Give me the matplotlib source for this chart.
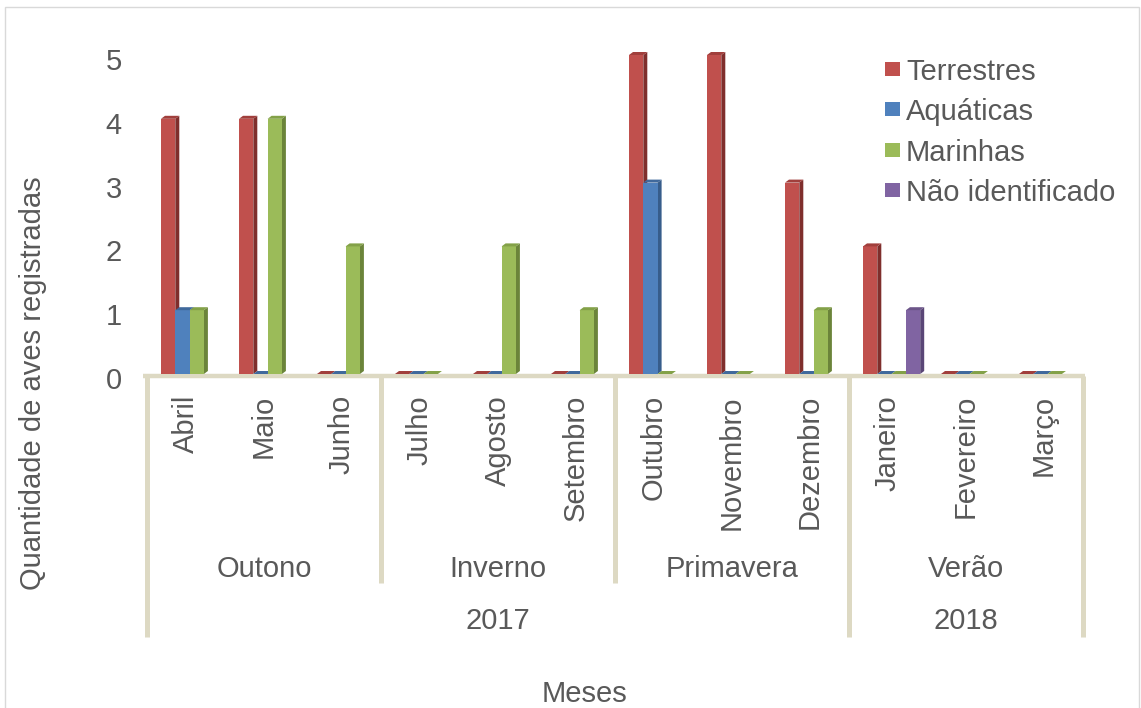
import matplotlib.pyplot as plt
import matplotlib.transforms as mtransforms
from matplotlib.patches import Polygon, Rectangle

plt.rcParams['font.family'] = ['Liberation Sans', 'DejaVu Sans']

months = ['Abril', 'Maio', 'Junho', 'Julho', 'Agosto', 'Setembro',
          'Outubro', 'Novembro', 'Dezembro', 'Janeiro', 'Fevereiro', 'Março']
seasons = ['Outono', 'Inverno', 'Primavera', 'Verão']
years = ['2017', '2018']
series = ['Terrestres', 'Aquáticas', 'Marinhas', 'Não identificado']

terrestres = [4, 4, 0, 0, 0, 0, 5, 5, 3, 2, 0, 0]
aquaticas = [1, 0, 0, 0, 0, 0, 3, 0, 0, 0, 0, 0]
marinhas = [1, 4, 2, 0, 2, 1, 0, 0, 1, 0, 0, 0]
nao_ident = [None, None, None, None, None, None, None, None, None, 1, None, None]

# front / side / top colours (Excel 2007 palette)
front = ['#c0504d', '#4f81bd', '#9bbb59', '#8064a2']
side = ['#7f2e2c', '#375d8b', '#6b843a', '#5a4676']
top = ['#a13f3c', '#40699c', '#83a148', '#6c5589']

txt = '#595959'
line_col = '#ddd9c3'
fs = 21

W, H = 1141, 708
fig = plt.figure(figsize=(W / 100, H / 100), dpi=100)

# outer border
fig.patches.append(Rectangle((5 / W, -0.05), 1134 / W, 1 - 7 / H + 0.05,
                             transform=fig.transFigure, fill=False,
                             edgecolor='#d9d9d9', lw=1))

ax = fig.add_axes([147 / W, (H - 374) / H, 936 / W, (374 - 55) / H])
ax.set_xlim(0, 12)
ax.set_ylim(0, 5)
for s in ax.spines.values():
    s.set_visible(False)
ax.set_xticks([])
ax.set_yticks(range(6))
ax.tick_params(axis='y', length=0, pad=18, labelsize=fs, labelcolor=txt)
for lab in ax.get_yticklabels():
    lab.set_transform(lab.get_transform() +
                      mtransforms.ScaledTranslation(0, -4 / 100, fig.dpi_scale_trans))

# 3d depth in data units
dx = 4 / 78
dy = 3 / 63.8
bw = 14.3 / 78
off = 14 / 78

# floor
floor_tr = mtransforms.offset_copy(ax.transData, fig=fig, y=-2, units='dots')
ax.plot([-0.05, 12.03], [0, 0], color=line_col, lw=3.2, transform=floor_tr,
        clip_on=False, zorder=1, solid_capstyle='butt')

data = [terrestres, aquaticas, marinhas, nao_ident]
z = 2
for i in range(len(months)):
    for k, vals in enumerate(data):
        v = vals[i]
        if v is None:
            continue
        x0 = i + off + k * bw
        x1 = x0 + bw
        if v > 0:
            ax.add_patch(Polygon([(x1, 0), (x1 + dx, dy), (x1 + dx, v + dy), (x1, v)],
                                 closed=True, facecolor=side[k], edgecolor='none',
                                 zorder=z, clip_on=False))
            ax.add_patch(Rectangle((x0, 0), bw, v, facecolor=front[k],
                                   edgecolor='none', zorder=z + 0.5, clip_on=False))
        ax.add_patch(Polygon([(x0, v), (x0 + dx, v + dy), (x1 + dx, v + dy), (x1, v)],
                             closed=True, facecolor=top[k], edgecolor='none',
                             zorder=z + 0.6, clip_on=False))
        z += 1

# multi-level category axis
btr = mtransforms.blended_transform_factory(ax.transData, fig.transFigure)
line_top = (H - 376) / H
for xv, ybot in [(0, 637), (3, 583), (6, 583), (9, 637), (12, 637)]:
    ax.plot([xv, xv], [line_top, (H - ybot) / H], color=line_col, lw=3.6,
            transform=btr, clip_on=False, solid_capstyle='butt')

for i, m in enumerate(months):
    ax.text(i + 0.5, (H - 395) / H, m, rotation=90, ha='center', va='top',
            fontsize=fs, color=txt, transform=btr)
for j, s in enumerate(seasons):
    ax.text(3 * j + 1.5, (H - 569) / H, s, ha='center', va='center',
            fontsize=fs, color=txt, transform=btr)
for xc, yr in zip([4.5, 10.5], years):
    ax.text(xc, (H - 621) / H, yr, ha='center', va='center',
            fontsize=fs, color=txt, transform=btr)

fig.text(33 / W, 1 - 383 / H, 'Quantidade de aves registradas', rotation=90,
         ha='center', va='center', fontsize=fs, color=txt)
fig.text(584 / W, 1 - 694 / H, 'Meses', ha='center', va='center',
         fontsize=fs, color=txt)

# legend
for k, name in enumerate(series):
    yc = [69, 109, 150, 190][k]
    fig.patches.append(Rectangle((885 / W, 1 - (yc + 7) / H), 15 / W, 14 / H,
                                 transform=fig.transFigure, facecolor=front[k],
                                 edgecolor='none'))
    fig.text(906 / W, 1 - (yc + 3) / H, name, ha='left', va='center',
             fontsize=fs, color=txt)

fig.savefig('out.png', dpi=100)
